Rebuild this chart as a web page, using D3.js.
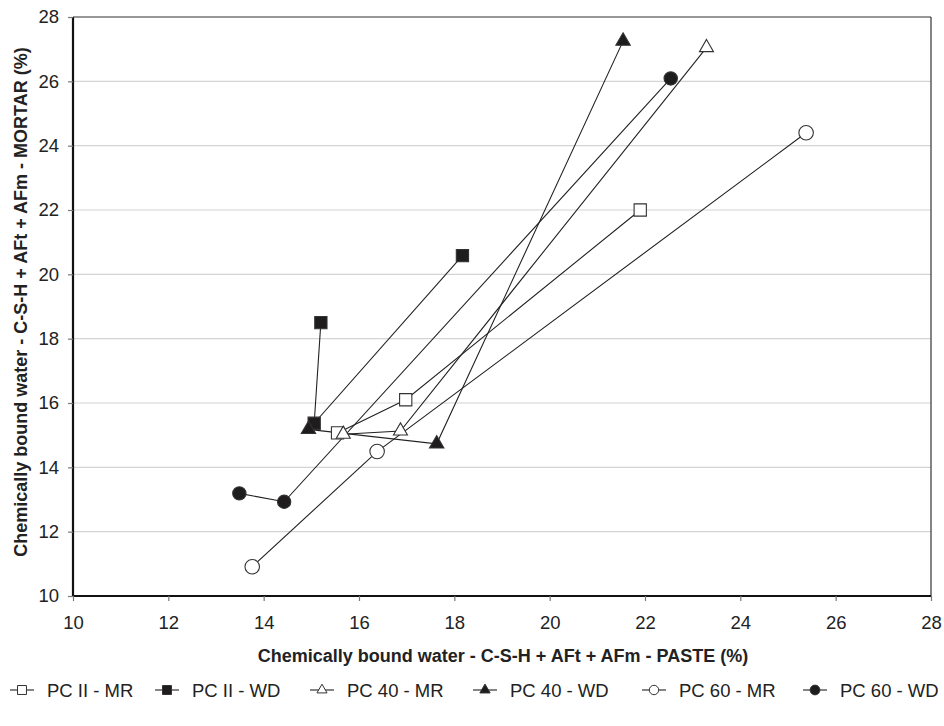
<!DOCTYPE html>
<html>
<head>
<meta charset="utf-8">
<script src="https://cdn.jsdelivr.net/npm/d3@7/dist/d3.min.js"></script>
<style>
	body { margin: 0; background: #fff; }
	svg text { font-family: "Liberation Sans", Arial, sans-serif; fill: #222; }
</style>
</head>
<body>
<div id="chart"></div>
<script>
// Series names (legend order)
var seriesNames = ["PC II - MR", "PC II - WD", "PC 40 - MR", "PC 40 - WD", "PC 60 - MR", "PC 60 - WD"];

// x = paste, y = mortar (%)
var pcIIMrPaste = [15.55, 16.98, 21.90];
var pcIIMrMortar = [15.07, 16.10, 22.00];
var pcIIWdPaste = [15.20, 15.06, 18.17];
var pcIIWdMortar = [18.50, 15.37, 20.58];
var pc40MrPaste = [15.67, 16.87, 23.29];
var pc40MrMortar = [15.03, 15.13, 27.05];
var pc40WdPaste = [14.94, 17.63, 21.54];
var pc40WdMortar = [15.18, 14.73, 27.25];
var pc60MrPaste = [13.76, 16.38, 25.38];
var pc60MrMortar = [10.91, 14.49, 24.40];
var pc60WdPaste = [13.49, 14.43, 22.54];
var pc60WdMortar = [13.19, 12.93, 26.09];

var tickValues = [10, 12, 14, 16, 18, 20, 22, 24, 26, 28];

var xTitle = "Chemically bound water - C-S-H + AFt + AFm - PASTE (%)";
var yTitle = "Chemically bound water - C-S-H + AFt + AFm - MORTAR (%)";

var allPaste = [pcIIMrPaste, pcIIWdPaste, pc40MrPaste, pc40WdPaste, pc60MrPaste, pc60WdPaste];
var allMortar = [pcIIMrMortar, pcIIWdMortar, pc40MrMortar, pc40WdMortar, pc60MrMortar, pc60WdMortar];

// marker style per series
var markerType = [d3.symbolSquare, d3.symbolSquare, d3.symbolTriangle, d3.symbolTriangle, d3.symbolCircle, d3.symbolCircle];
var markerFilled = [false, true, false, true, false, true];
var markerSize = [150, 150, 85, 90, 165, 140];
var legendSize = [80, 80, 44, 46, 70, 75];

var width = 944, height = 726;
// "top" is reserved on window, so use plot* names
var plotLeft = 73, plotRight = 931, plotTop = 17, plotBottom = 596;

var svg = d3.select("#chart").append("svg")
	.attr("width", width)
	.attr("height", height);

var x = d3.scaleLinear().domain([10, 28]).range([plotLeft, plotRight]);
var y = d3.scaleLinear().domain([10, 28]).range([plotBottom, plotTop]);

// gridlines
svg.append("g").selectAll("line")
	.data(tickValues.slice(1, -1))
	.enter().append("line")
	.attr("x1", plotLeft).attr("x2", plotRight)
	.attr("y1", function(d) { return y(d); })
	.attr("y2", function(d) { return y(d); })
	.attr("stroke", "#d4d4d4")
	.attr("stroke-width", 1.2);

// frame top / right
svg.append("line")
	.attr("x1", plotLeft).attr("x2", plotRight).attr("y1", plotTop).attr("y2", plotTop)
	.attr("stroke", "#333").attr("stroke-width", 1.2);
svg.append("line")
	.attr("x1", plotRight).attr("x2", plotRight).attr("y1", plotTop).attr("y2", plotBottom)
	.attr("stroke", "#333").attr("stroke-width", 1.2);

// axes
var xAxis = d3.axisBottom(x).tickValues(tickValues).tickSize(5).tickPadding(15).tickFormat(d3.format("d"));
var yAxis = d3.axisLeft(y).tickValues(tickValues).tickSize(5).tickPadding(9).tickFormat(d3.format("d"));

var gx = svg.append("g").attr("transform", "translate(0," + plotBottom + ")").call(xAxis);
var gy = svg.append("g").attr("transform", "translate(" + plotLeft + ",0)").call(yAxis);

[gx, gy].forEach(function(g) {
	g.select(".domain").attr("stroke", "#111").attr("stroke-width", 2.2);
	g.selectAll(".tick line").attr("stroke", "#777").attr("stroke-width", 1.2);
	g.selectAll(".tick text")
		.attr("fill", "#222")
		.style("font-size", "18.5px")
		.style("font-family", "Liberation Sans, Arial, sans-serif");
});
gx.select(".domain").attr("d", "M" + plotLeft + ",0H" + plotRight);
gy.select(".domain").attr("d", "M0," + plotTop + "V" + plotBottom);

// series lines and markers
var line = d3.line()
	.x(function(d) { return x(d[0]); })
	.y(function(d) { return y(d[1]); });

var plot = svg.append("g");
allPaste.forEach(function(paste, i) {
	var pts = paste.map(function(v, j) { return [v, allMortar[i][j]]; });
	plot.append("path")
		.attr("d", line(pts))
		.attr("fill", "none")
		.attr("stroke", "#222")
		.attr("stroke-width", 1.1);
});
allPaste.forEach(function(paste, i) {
	var pts = paste.map(function(v, j) { return [v, allMortar[i][j]]; });
	plot.append("g").selectAll("path")
		.data(pts)
		.enter().append("path")
		.attr("d", d3.symbol().type(markerType[i]).size(markerSize[i]))
		.attr("transform", function(d) { return "translate(" + x(d[0]) + "," + y(d[1]) + ")"; })
		.attr("fill", markerFilled[i] ? "#1e1c1c" : "#fff")
		.attr("stroke", "#333")
		.attr("stroke-width", 1.1);
});

// axis titles
svg.append("text")
	.attr("x", 503)
	.attr("y", 662)
	.attr("text-anchor", "middle")
	.style("font-size", "18px")
	.style("font-weight", "bold")
	.text(xTitle);

svg.append("text")
	.attr("transform", "translate(27,302) rotate(-90)")
	.attr("text-anchor", "middle")
	.style("font-size", "18px")
	.style("font-weight", "bold")
	.text(yTitle);

// legend
var legendX = [10, 155, 310, 473, 642, 803];
var legend = svg.append("g").attr("transform", "translate(0,690)");
seriesNames.forEach(function(name, i) {
	var g = legend.append("g").attr("transform", "translate(" + legendX[i] + ",0)");
	g.append("line")
		.attr("x1", 0).attr("x2", 24).attr("y1", 0).attr("y2", 0)
		.attr("stroke", "#222").attr("stroke-width", 1.1);
	g.append("path")
		.attr("d", d3.symbol().type(markerType[i]).size(legendSize[i]))
		.attr("transform", "translate(12,0)")
		.attr("fill", markerFilled[i] ? "#1e1c1c" : "#fff")
		.attr("stroke", "#333")
		.attr("stroke-width", 1);
	g.append("text")
		.attr("x", 37)
		.attr("y", 7)
		.style("font-size", "18.5px")
		.text(name);
});
</script>
</body>
</html>
